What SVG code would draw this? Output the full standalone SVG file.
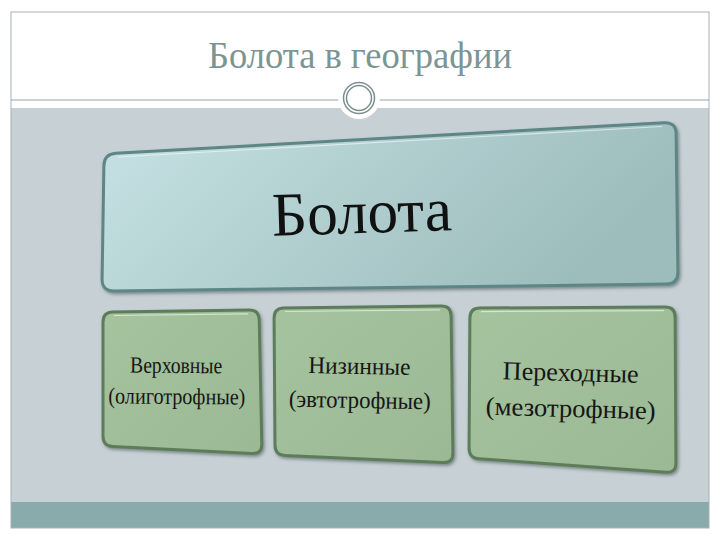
<svg xmlns="http://www.w3.org/2000/svg" width="720" height="540" viewBox="0 0 720 540">
<defs>
<linearGradient id="gTop" x1="0" y1="0" x2="1" y2="0.3">
<stop offset="0" stop-color="#c6e2e4"/>
<stop offset="1" stop-color="#9dbcbc"/>
</linearGradient>
<linearGradient id="gGreen" x1="0" y1="0" x2="1" y2="1">
<stop offset="0" stop-color="#a5c39d"/>
<stop offset="1" stop-color="#9bb994"/>
</linearGradient>
<filter id="sh" x="-10%" y="-10%" width="120%" height="130%">
<feDropShadow dx="1.5" dy="2" stdDeviation="1.5" flood-color="#3a4a4a" flood-opacity="0.5"/>
</filter>
<style>
.title{font-family:"Liberation Serif","DejaVu Serif",serif;font-size:37px;fill:#7b9494;text-anchor:middle}
.big{font-family:"Liberation Serif","DejaVu Serif",serif;font-size:62px;fill:#111;text-anchor:middle}
.lbl{font-family:"Liberation Serif","DejaVu Serif",serif;fill:#161616;text-anchor:middle}
.topbox{fill:url(#gTop);stroke:#5e8686;stroke-width:3;filter:url(#sh)}
.gbox{fill:url(#gGreen);stroke:#5d7d5a;stroke-width:3;filter:url(#sh)}
.hl{fill:none;stroke:#ffffff;stroke-opacity:0.55;stroke-width:1.2}
</style>
</defs>
<rect x="0" y="0" width="720" height="540" fill="#ffffff"/>
<rect x="11" y="108" width="698" height="395" fill="#c6d0d5"/>
<rect x="11" y="502" width="698" height="26" fill="#8aabab"/>
<rect x="11" y="12" width="698" height="516" fill="none" stroke="#a7b0b0" stroke-width="1"/>
<line x1="11" y1="100" x2="709" y2="100" stroke="#9aa3a3" stroke-width="1.2"/>
<circle cx="359" cy="98" r="21" fill="#ffffff"/>
<circle cx="359" cy="98" r="15.5" fill="#ffffff" stroke="#7c8f8f" stroke-width="1.5"/>
<circle cx="359" cy="98" r="12.5" fill="#ffffff" stroke="#7c8f8f" stroke-width="1.5"/>
<text class="title" x="360" y="68" textLength="304" lengthAdjust="spacingAndGlyphs">Болота в географии</text>
<g id="node-bolota">
<path class="topbox" d="M116,153.3 L664,122.7 Q676,122 676.1,134 L677.9,272 Q678,284 666,284.1 L114,290.9 Q102,291 102.1,279 L103.9,166 Q104,154 116,153.3 Z"/>
<path class="hl" d="M118,157 L662,126.5"/>
<text class="big" x="362" y="233" transform="rotate(-1.8 362 215)" textLength="180" lengthAdjust="spacingAndGlyphs">Болота</text>
</g>
<g id="node-verhovnye">
<path class="gbox" d="M113,311.9 L249,310.1 Q259,310 259.2,320 L261.8,444 Q262,454 252,453.5 L113,446.6 Q103,446 103,436 L103,322 Q103,312 113,311.9 Z"/>
<path class="hl" d="M114,315.5 L248,313.8"/>
<text class="lbl" x="176" y="373" font-size="23" transform="rotate(0.5 176 385)" textLength="92" lengthAdjust="spacingAndGlyphs">Верховные</text>
<text class="lbl" x="177" y="404" font-size="23" transform="rotate(0.5 176 385)" textLength="137" lengthAdjust="spacingAndGlyphs">(олиготрофные)</text>
</g>
<g id="node-nizinnye">
<path class="gbox" d="M284,307.9 L441,306.1 Q451,306 451.1,316 L452.9,453 Q453,463 443,462.6 L285,455.4 Q275,455 275,445 L274.1,318 Q274,308 284,307.9 Z"/>
<path class="hl" d="M285,311.5 L440,309.8"/>
<text class="lbl" x="359" y="374" font-size="24" transform="rotate(1 359 388)" textLength="102" lengthAdjust="spacingAndGlyphs">Низинные</text>
<text class="lbl" x="360" y="408" font-size="24" transform="rotate(1 359 388)" textLength="142" lengthAdjust="spacingAndGlyphs">(эвтотрофные)</text>
</g>
<g id="node-perehodnye">
<path class="gbox" d="M480,308 L665,307 Q675,307 675.1,317 L675.9,463 Q676,473 666,472.3 L479,458.7 Q469,458 469.1,448 L469.9,318 Q470,308 480,308 Z"/>
<path class="hl" d="M481,311.6 L664,310.6"/>
<text class="lbl" x="570" y="381" font-size="26" transform="rotate(1.5 570 398)" textLength="136" lengthAdjust="spacingAndGlyphs">Переходные</text>
<text class="lbl" x="571" y="417" font-size="26" transform="rotate(1.5 570 398)" textLength="170" lengthAdjust="spacingAndGlyphs">(мезотрофные)</text>
</g>
<g id="connectors"></g>
</svg>
